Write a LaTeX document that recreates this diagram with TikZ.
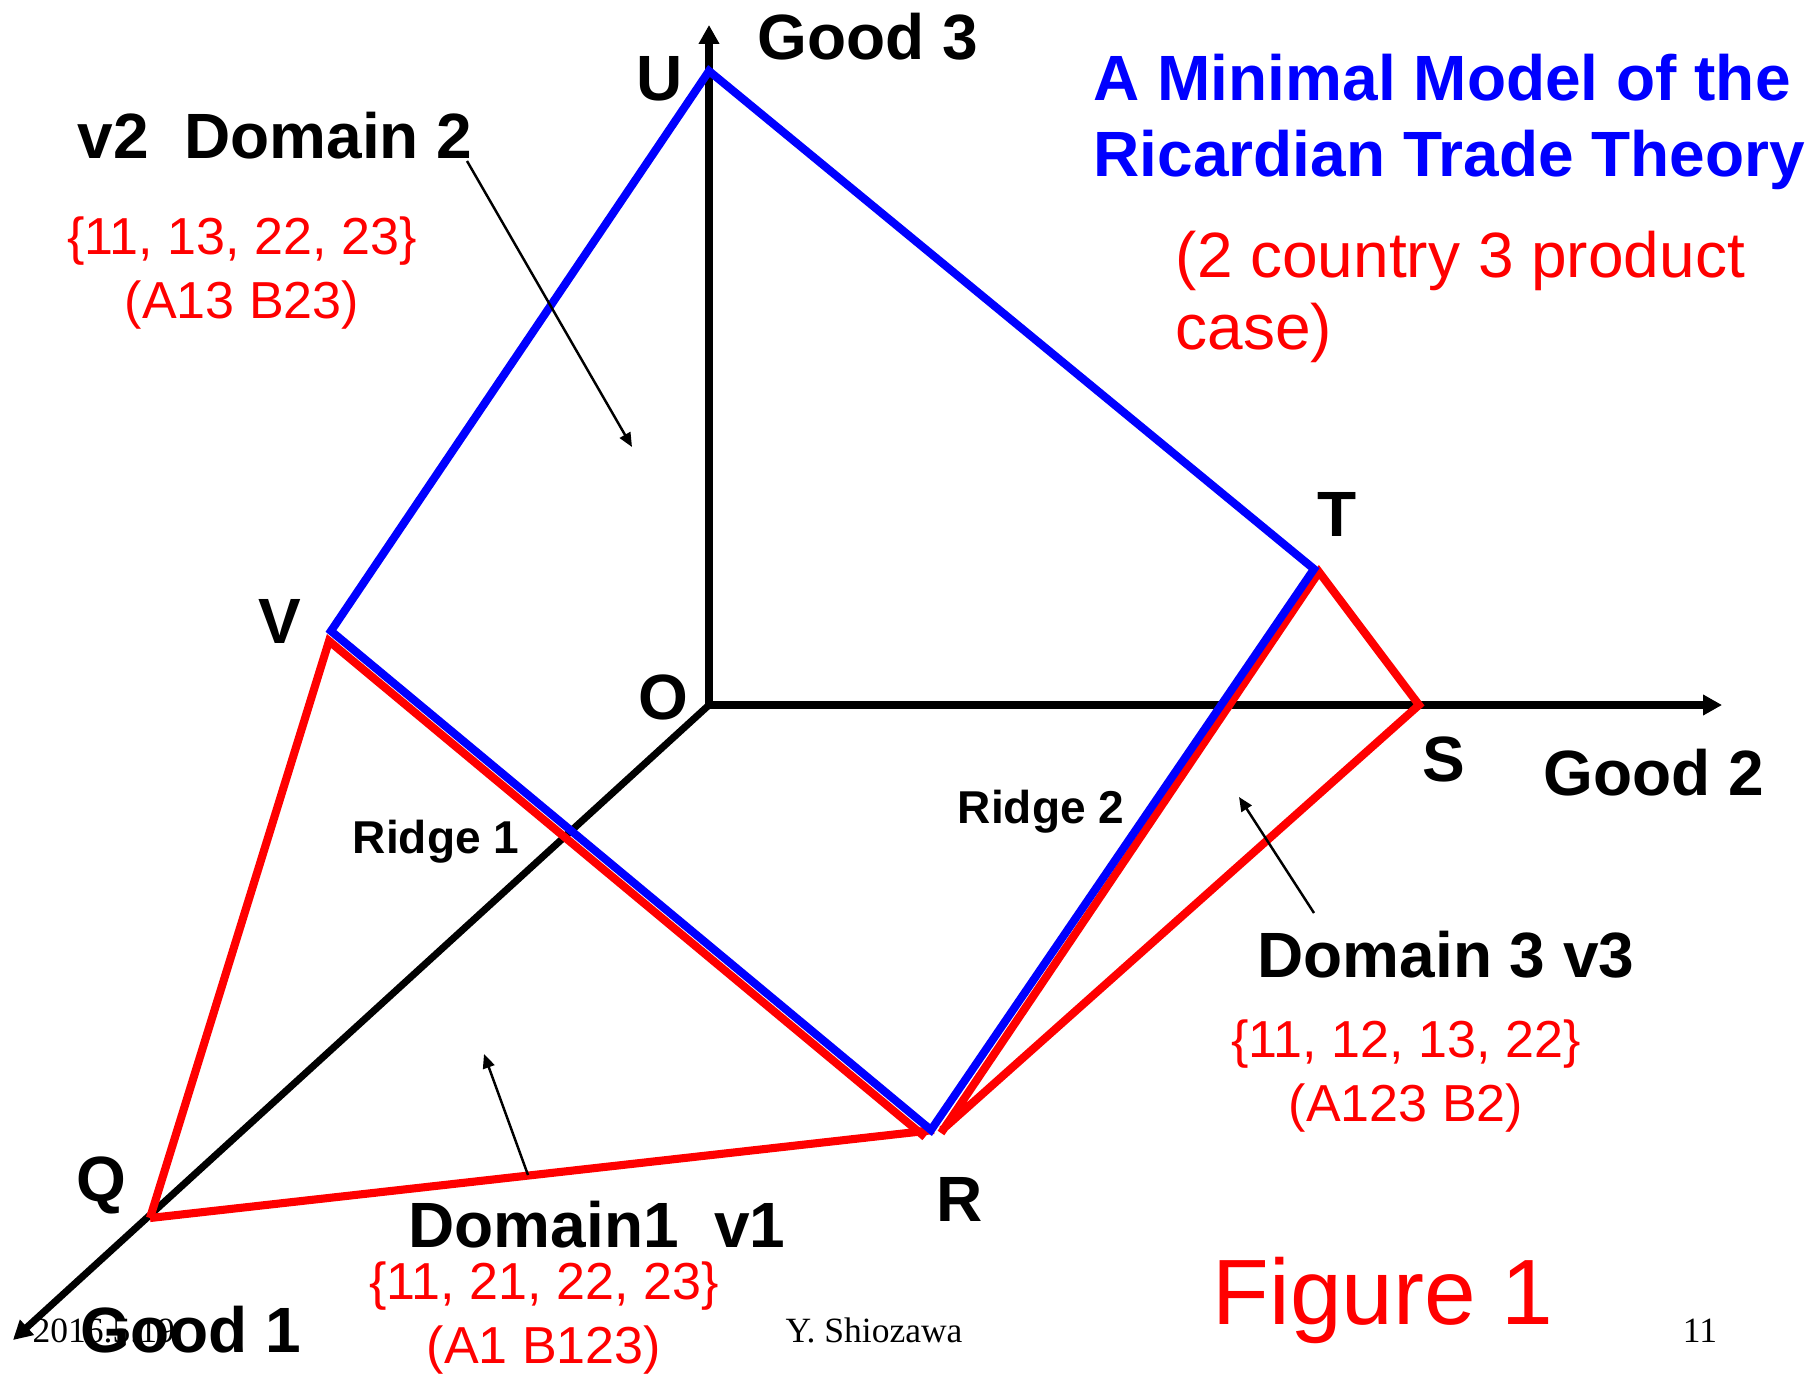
\documentclass[tikz,border=0pt]{standalone}
\usepackage{fontspec}
\setmainfont{Liberation Sans}
\newfontfamily\footfont{Liberation Serif}
\usetikzlibrary{arrows.meta}
\tikzset{
  axis/.style={line width=2pt, -{Triangle[length=5.4pt,width=5.6pt]}},
  pointer/.style={line width=0.7pt, -{Triangle[length=4pt,width=3.4pt]}},
  blueedge/.style={blue, line width=2.3pt, line join=miter},
  rededge/.style={red, line width=2.3pt, line join=miter},
  biglabel/.style={font=\fontsize{18.2}{21}\selectfont\bfseries, anchor=base, inner sep=0pt},
  ridgelabel/.style={font=\fontsize{13.1}{15}\selectfont\bfseries, anchor=base, inner sep=0pt},
  setlabel/.style={red, font=\fontsize{14.8}{17}\selectfont, anchor=base, inner sep=0pt},
  footer/.style={font=\footfont\fontsize{10.1}{12}\selectfont, anchor=base, inner sep=0pt},
}
\begin{document}
\begin{tikzpicture}[x=0.01cm,y=-0.01cm]
  \useasboundingbox (0,0) rectangle (1807,1376);
  \coordinate (O) at (709,705);
  \coordinate (U) at (709,71);
  \coordinate (T) at (1314,569);
  \coordinate (S) at (1419,705);
  \coordinate (V) at (331,631);
  \coordinate (Q) at (150,1218);
  \coordinate (R) at (931,1130);
  \coordinate (end1) at (13,1340);
  \coordinate (end2) at (1722,705);
  \coordinate (end3) at (709,25);

  \draw[axis] (O) -- (end1);
  \draw[axis] (O) -- (end2);
  \draw[axis] (O) -- (end3);

  \draw[rededge] (Q) -- ([shift={(-2,10)}]V) -- ([shift={(-6,7)}]R);
  \draw[rededge] (Q) -- ([shift={(3,0)}]R);
  \draw[rededge] ([shift={(10,3)}]R) -- ([shift={(5,3)}]T) -- (S) -- ([shift={(11,0)}]R);
  \draw[blueedge] (R) -- (V) -- (U) -- (T) -- cycle;

  \coordinate (p2a) at (467,161);
  \coordinate (p2b) at (632,447);
  \coordinate (p3a) at (1314,913);
  \coordinate (p3b) at (1239,797);
  \coordinate (p1a) at (528,1175);
  \coordinate (p1b) at (484,1054);
  \draw[pointer] (p2a) -- (p2b);
  \draw[pointer] (p3a) -- (p3b);
  \draw[pointer] (p1a) -- (p1b);

  \foreach \n/\x/\y in {U/660/101, T/1337/536, V/280/643, O/663/719, S/1444/781, Q/101/1201, R/960/1221}{%
    \node[biglabel] (lab\n) at (\x,\y) {\n};
  }
  \node[biglabel] (good3) at (868,60) {Good 3};
  \node[biglabel] (good2) at (1654,795) {Good 2};
  \node[biglabel] (dom2) at (275,159) {v2~~Domain 2};
  \node[biglabel] (dom3) at (1446,977) {Domain 3 v3};
  \node[biglabel] (dom1) at (597,1247) {Domain1~~v1};
  \node[ridgelabel] (ridge1) at (436,853) {Ridge 1};
  \node[ridgelabel] (ridge2) at (1041,823) {Ridge 2};

  \foreach \sx/\sy/\sa/\sb [count=\i] in {242/254/{\{11, 13, 22, 23\}}/{(A13 B23)},
      1406/1057/{\{11, 12, 13, 22\}}/{(A123 B2)},
      544/1299/{\{11, 21, 22, 23\}}/{(A1 B123)}}{%
    \node[setlabel] (set\i a) at (\sx,\sy) {\sa};
    \node[setlabel] (set\i b) at (\sx,\sy+64) {\sb};
  }

  \node[biglabel, blue, anchor=base west] (title1) at (1093,101) {A Minimal Model of the};
  \node[biglabel, blue, anchor=base west] (title2) at (1093,176) {Ricardian Trade Theory};
  \node[setlabel, font=\fontsize{18.2}{21}\selectfont, anchor=base west] (case1) at (1175,277) {(2 country 3 product};
  \node[setlabel, font=\fontsize{18.2}{21}\selectfont, anchor=base west] (case2) at (1175,349) {case)};
  \node[setlabel, font=\fontsize{26.4}{30}\selectfont] (fig) at (1383,1324) {Figure 1};

  \node[footer, anchor=base west] (date) at (32,1342) {2016.5.19};
  \node[biglabel, anchor=base west] (good1) at (80,1352) {Good 1};
  \node[footer] (author) at (874,1342) {Y. Shiozawa};
  \node[footer] (page) at (1700,1342) {11};
\end{tikzpicture}
\end{document}
